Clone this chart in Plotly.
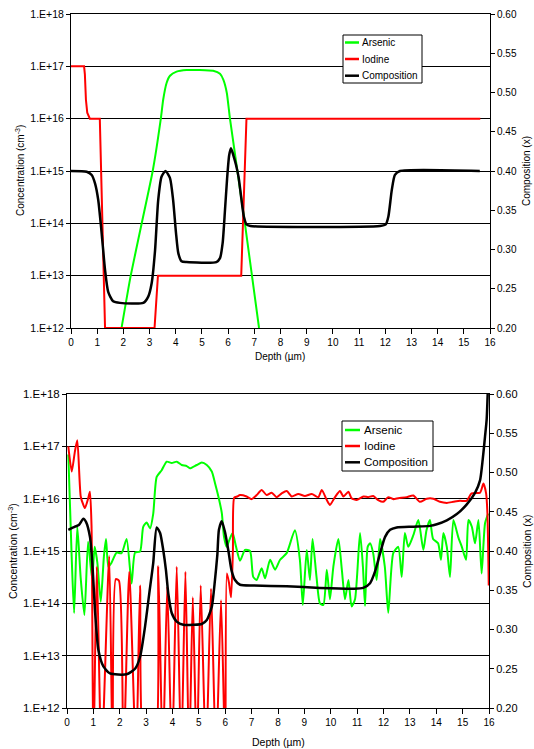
import plotly.graph_objects as go

W, H = 534, 749
FONT = "Liberation Sans, Arial, sans-serif"

# ---------------- Top chart data ----------------
top_as_x = [1.93, 2.28, 2.70, 3.12, 3.43, 3.52, 3.65, 3.78, 4.03, 4.41, 4.92, 5.43, 5.69, 5.82, 5.95, 6.07, 6.64, 7.18]
top_as_y = [1e12, 1e13, 1e14, 1e15, 1e16, 2.3e16, 4.8e16, 6.6e16, 7.9e16, 8.5e16, 8.5e16, 8.2e16, 7.2e16, 5.5e16, 3.1e16, 1e16, 1e14, 1e12]

top_io_x = [0, 0.50, 0.53, 0.57, 0.62, 0.72, 1.10, 1.30, 3.19, 3.32, 6.50, 6.70, 15.63]
top_io_y = [1e17, 1e17, 7e16, 2.3e16, 1.3e16, 1e16, 1e16, 1e12, 1e12, 1e13, 1e13, 1e16, 1e16]

top_comp_x = [0, 0.60, 0.79, 0.92, 1.04, 1.17, 1.30, 1.42, 1.61, 1.87, 2.76, 2.95, 3.08, 3.21, 3.33,
              3.46, 3.61, 3.78, 3.90, 4.01, 4.10, 4.22, 4.41, 5.55, 5.69, 5.79, 5.88, 5.96, 6.04,
              6.11, 6.20, 6.30, 6.40, 6.50, 6.60, 6.70, 6.85, 11.80, 12.02, 12.12, 12.25, 12.37,
              12.56, 15.61]
top_comp_y = [0.400, 0.399, 0.395, 0.384, 0.363, 0.321, 0.274, 0.246, 0.234, 0.232, 0.232, 0.240,
              0.257, 0.299, 0.363, 0.393, 0.400, 0.391, 0.363, 0.321, 0.295, 0.285, 0.284, 0.284,
              0.289, 0.308, 0.350, 0.390, 0.420, 0.429, 0.420, 0.408, 0.392, 0.366, 0.342, 0.332,
              0.330, 0.330, 0.332, 0.342, 0.376, 0.395, 0.400, 0.400]

# ---------------- Bottom chart data ----------------
bot_as_x = [0.05, 0.18, 0.27, 0.39, 0.52, 0.66, 0.80, 0.95, 1.05, 1.15, 1.28, 1.40, 1.48, 1.57, 1.69,
            1.88, 2.07, 2.26, 2.45, 2.58, 2.77, 2.89, 3.02, 3.15, 3.27, 3.40, 3.59, 3.78, 3.97, 4.16,
            4.35, 4.54, 4.66, 4.92, 5.11, 5.30, 5.49, 5.61, 5.74, 5.87, 5.95, 6.05, 6.15, 6.28, 6.41,
            6.56, 6.75, 6.94, 7.06, 7.19, 7.38, 7.51, 7.70, 7.89, 8.08, 8.33, 8.64, 8.83, 8.94, 9.09,
            9.21, 9.31, 9.46, 9.59, 9.72, 9.85, 9.97, 10.10, 10.29, 10.42, 10.54, 10.67, 10.79, 10.92,
            11.11, 11.22, 11.30, 11.40, 11.49, 11.61, 11.74, 11.87, 12.05, 12.18, 12.37, 12.56, 12.69,
            12.81, 12.94, 13.13, 13.32, 13.51, 13.63, 13.76, 13.88, 14.07, 14.18, 14.27, 14.40, 14.52,
            14.65, 14.84, 14.97, 15.13, 15.22, 15.35, 15.47, 15.60, 15.72, 15.85, 15.97]
bot_as_y = [7e16, 7e14, 6.5e13, 2.9e15, 3e14, 6e13, 1.5e15, 3e14, 1.2e15, 6e14, 1.07e14, 8e14, 1.7e15,
            5e14, 6e14, 9.3e14, 9.1e14, 1.7e15, 2.4e14, 9.3e14, 9.8e14, 2.9e15, 3.5e15, 2.7e15, 5.2e15,
            2.6e16, 3.5e16, 5.1e16, 4.8e16, 5.1e16, 4.4e16, 4.2e16, 3.8e16, 4.4e16, 4.9e16, 4.4e16,
            3.3e16, 2e16, 1.1e16, 5.3e15, 1.9e15, 1.2e15, 1.6e15, 2.2e15, 1.2e15, 6.5e14, 1.05e15,
            1.0e15, 3.2e14, 2.8e14, 4.7e14, 3e14, 6.8e14, 4.4e14, 6.8e14, 9.1e14, 2.5e15, 6.8e14,
            9.3e13, 1.05e15, 2.8e14, 1.7e15, 3.2e14, 1.0e14, 9.3e13, 4.4e14, 1.2e14, 5.1e14, 1.7e15,
            4.4e14, 1.2e14, 2.8e14, 8.7e13, 1.2e14, 2.2e15, 5e14, 9e13, 1.2e15, 1.4e15, 9e14, 2.8e14,
            1.7e15, 5e14, 6.6e13, 9.1e14, 1.2e15, 3.2e14, 2.2e15, 1.2e15, 2e15, 3.9e15, 1.05e15,
            2.5e15, 3.9e15, 1.7e15, 1.4e15, 6.8e14, 2.2e15, 1.2e15, 3.2e14, 3.9e15, 1.8e15, 1.2e15,
            6.8e14, 3.9e15, 2.9e15, 1.4e15, 3.9e15, 3.7e14, 3.4e15, 5.2e15]

bot_io_x = [0.05, 0.18, 0.30, 0.39, 0.52, 0.62, 0.68, 0.80, 0.87, 0.93, 1.00, 1.13, 1.31, 1.60, 1.73,
            1.85, 1.97, 2.14, 2.36, 2.62, 2.77, 2.96, 3.30, 3.46, 3.63, 3.80, 3.98, 4.16, 4.33, 4.49,
            4.63, 4.77, 4.92, 5.07, 5.27, 5.46, 5.65, 5.84, 6.00, 6.06, 6.14, 6.22, 6.29, 6.34, 6.45,
            6.56, 6.81, 7.00, 7.19, 7.38, 7.57, 7.76, 7.95, 8.14, 8.33, 8.52, 8.77, 9.02, 9.28, 9.53,
            9.66, 9.85, 9.97, 10.16, 10.35, 10.48, 10.67, 10.79, 10.98, 11.24, 11.42, 11.61, 11.80,
            11.99, 12.18, 12.37, 12.56, 12.88, 13.13, 13.38, 13.64, 13.89, 14.14, 14.40, 14.65, 14.90,
            15.15, 15.34, 15.66, 15.79, 15.89, 15.94, 15.99]
bot_io_y = [1.0e17, 3.3e16, 8e16, 1.3e17, 1.1e16, 7.6e15, 6.6e15, 1.0e16, 1.35e16, 3e15, 1e11, 5e14,
            1e11, 8e14, 1e11, 2.9e14, 2.7e14, 1e11, 4e14, 1e11, 2.2e14, 1e11, 1e11, 5.1e14, 1e11,
            2.1e14, 1e11, 5e14, 1e11, 4e14, 1e11, 1.3e14, 1e11, 2.2e14, 1e11, 1.9e14, 1e11, 1.15e14,
            1e11, 3.7e14, 2.5e14, 1.3e14, 1e15, 1.05e16, 1.1e16, 1.17e16, 1.1e16, 9.8e15, 1.17e16,
            1.47e16, 1.17e16, 1.3e16, 1.07e16, 1.26e16, 1.4e16, 1.1e16, 1.23e16, 1.12e16, 1.23e16,
            1.07e16, 1.47e16, 9.4e15, 7.6e15, 1.07e16, 1.4e16, 1.1e16, 1.35e16, 1.02e16, 9.4e15,
            1.1e16, 1.07e16, 1.12e16, 9.4e15, 8.7e15, 1.07e16, 9.8e15, 1.02e16, 1.07e16, 1.15e16,
            8.7e15, 1.0e16, 1.0e16, 8.7e15, 8.3e15, 8.7e15, 9.1e15, 9.1e15, 1.26e16, 1.3e16, 1.95e16,
            1.26e16, 5.2e15, 2.2e14]

bot_comp_x = [0.05, 0.30, 0.45, 0.62, 0.72, 0.87, 0.96, 1.06, 1.19, 1.38, 1.63, 2.26, 2.58, 2.77,
              2.96, 3.12, 3.27, 3.40, 3.53, 3.65, 3.75, 3.84, 3.97, 4.16, 4.41, 4.79, 5.11, 5.30,
              5.49, 5.61, 5.70, 5.76, 5.87, 5.99, 6.12, 6.24, 6.37, 6.56, 7.06, 8.33, 9.59, 10.86,
              11.23, 11.49, 11.68, 11.87, 12.06, 12.25, 12.50, 13.13, 13.76, 14.02, 14.40, 14.78,
              15.15, 15.47, 15.66, 15.76, 15.85, 15.91, 15.96]
bot_comp_y = [0.427, 0.431, 0.433, 0.441, 0.437, 0.418, 0.385, 0.325, 0.274, 0.253, 0.244, 0.243,
              0.250, 0.265, 0.304, 0.346, 0.385, 0.430, 0.423, 0.401, 0.376, 0.346, 0.321, 0.310,
              0.306, 0.306, 0.307, 0.312, 0.329, 0.363, 0.395, 0.427, 0.438, 0.424, 0.400, 0.375,
              0.363, 0.357, 0.356, 0.355, 0.353, 0.352, 0.353, 0.359, 0.374, 0.397, 0.418, 0.427,
              0.430, 0.431, 0.432, 0.434, 0.439, 0.447, 0.459, 0.474, 0.490, 0.516, 0.546, 0.567,
              0.610]

conc_ticks = [1e12, 1e13, 1e14, 1e15, 1e16, 1e17, 1e18]
conc_labels = ["1.E+12", "1.E+13", "1.E+14", "1.E+15", "1.E+16", "1.E+17", "1.E+18"]
series_names = ["Arsenic", "Iodine", "Composition"]
series_colors = ["#00FF00", "#FF0000", "#000000"]

fig = go.Figure()

# top set: arsenic smooth, iodine linear steps, composition smooth
fig.add_trace(go.Scatter(x=top_as_x, y=top_as_y, name=series_names[0], mode="lines",
                         line=dict(color=series_colors[0], width=2, shape="spline", smoothing=0.5),
                         xaxis="x", yaxis="y", showlegend=False))
fig.add_trace(go.Scatter(x=top_io_x, y=top_io_y, name=series_names[1], mode="lines",
                         line=dict(color=series_colors[1], width=2),
                         xaxis="x", yaxis="y", showlegend=False))
fig.add_trace(go.Scatter(x=top_comp_x, y=top_comp_y, name=series_names[2], mode="lines",
                         line=dict(color=series_colors[2], width=2.5, shape="spline", smoothing=0.6),
                         xaxis="x", yaxis="y2", showlegend=False))

# bottom set
fig.add_trace(go.Scatter(x=bot_as_x, y=bot_as_y, name=series_names[0], mode="lines",
                         line=dict(color=series_colors[0], width=2, shape="spline", smoothing=0.6),
                         xaxis="x2", yaxis="y3", showlegend=False))
fig.add_trace(go.Scatter(x=bot_io_x, y=bot_io_y, name=series_names[1], mode="lines",
                         line=dict(color=series_colors[1], width=2, shape="spline", smoothing=0.6),
                         xaxis="x2", yaxis="y3", showlegend=False))
fig.add_trace(go.Scatter(x=bot_comp_x, y=bot_comp_y, name=series_names[2], mode="lines",
                         line=dict(color=series_colors[2], width=2.5, shape="spline", smoothing=0.6),
                         xaxis="x2", yaxis="y4", showlegend=False))

def px_x(x):
    return x / W

def px_y(y):
    return 1 - y / H

axis_common = dict(showline=True, linecolor="black", linewidth=1, zeroline=False,
                   ticks="outside", tickcolor="black", tickwidth=1, automargin=False)

def conc_axis(domain, anchor, fs):
    return dict(domain=domain, anchor=anchor, type="log", range=[12, 18],
                tickvals=conc_ticks, ticktext=conc_labels, ticklen=4,
                showgrid=True, gridcolor="black", gridwidth=1,
                tickfont=dict(family=FONT, size=fs, color="black"), **axis_common)

def comp_axis(overlay, anchor, fs):
    return dict(overlaying=overlay, anchor=anchor, side="right", range=[0.2, 0.6],
                tick0=0.2, dtick=0.05, tickformat=".2f", ticklen=4, showgrid=False,
                tickfont=dict(family=FONT, size=fs, color="black"), **axis_common)

def depth_axis(domain, anchor):
    return dict(domain=domain, anchor=anchor, range=[0, 16], dtick=1, tick0=0, ticklen=5,
                showgrid=False, mirror=True,
                tickfont=dict(family=FONT, size=10, color="black"), **axis_common)

top_dom_y = [px_y(328), px_y(14)]
bot_dom_y = [px_y(708), px_y(394)]

annotations = []
shapes = []

def titles(cx_left, cx_right, cy, xt_x, xt_y, fs):
    annotations.append(dict(text="Concentration (cm<sup>-3</sup>)", x=px_x(cx_left), y=px_y(cy),
                            xref="paper", yref="paper", showarrow=False, textangle=-90,
                            font=dict(family=FONT, size=fs, color="black"),
                            xanchor="center", yanchor="middle"))
    annotations.append(dict(text="Composition (x)", x=px_x(cx_right), y=px_y(cy),
                            xref="paper", yref="paper", showarrow=False, textangle=-90,
                            font=dict(family=FONT, size=fs, color="black"),
                            xanchor="center", yanchor="middle"))
    annotations.append(dict(text="Depth (\u00b5m)", x=px_x(xt_x), y=px_y(xt_y),
                            xref="paper", yref="paper", showarrow=False,
                            font=dict(family=FONT, size=fs, color="black"),
                            xanchor="center", yanchor="middle"))

titles(20, 527, 171, 280, 357, 10)
titles(12, 527, 551, 278, 742, 10.5)

def legend_box(x0, y0, x1, y1, line_x0, line_x1, text_x, ys, fs):
    shapes.append(dict(type="rect", xref="paper", yref="paper", x0=px_x(x0), x1=px_x(x1),
                       y0=px_y(y1), y1=px_y(y0), line=dict(color="black", width=1),
                       fillcolor="white", layer="above"))
    for name, col, yy in zip(series_names, series_colors, ys):
        shapes.append(dict(type="line", xref="paper", yref="paper", x0=px_x(line_x0), x1=px_x(line_x1),
                           y0=px_y(yy), y1=px_y(yy), line=dict(color=col, width=2.5), layer="above"))
        annotations.append(dict(text=name, x=px_x(text_x), y=px_y(yy), xref="paper", yref="paper",
                                showarrow=False, xanchor="left", yanchor="middle",
                                font=dict(family=FONT, size=fs, color="black")))

legend_box(343, 35, 422, 83, 345, 359, 360, [42.5, 59, 75.7], 10)
legend_box(342, 421, 433, 471, 345, 360, 362, [430, 446, 462.3], 11.5)

fig.update_layout(
    width=W, height=H,
    margin=dict(l=0, r=0, t=0, b=0),
    paper_bgcolor="white", plot_bgcolor="white",
    font=dict(family=FONT, size=10, color="black"),
    showlegend=False,
    xaxis=depth_axis([px_x(71), px_x(490)], "y"),
    yaxis=conc_axis(top_dom_y, "x", 10.5),
    yaxis2=comp_axis("y", "x", 10),
    xaxis2=depth_axis([px_x(67), px_x(489)], "y3"),
    yaxis3=conc_axis(bot_dom_y, "x2", 11.5),
    yaxis4=comp_axis("y3", "x2", 11),
    annotations=annotations,
    shapes=shapes,
)

fig.write_html("out.html", config={"displayModeBar": False},
               post_script="document.body.style.margin='0';document.body.style.overflow='hidden';")
